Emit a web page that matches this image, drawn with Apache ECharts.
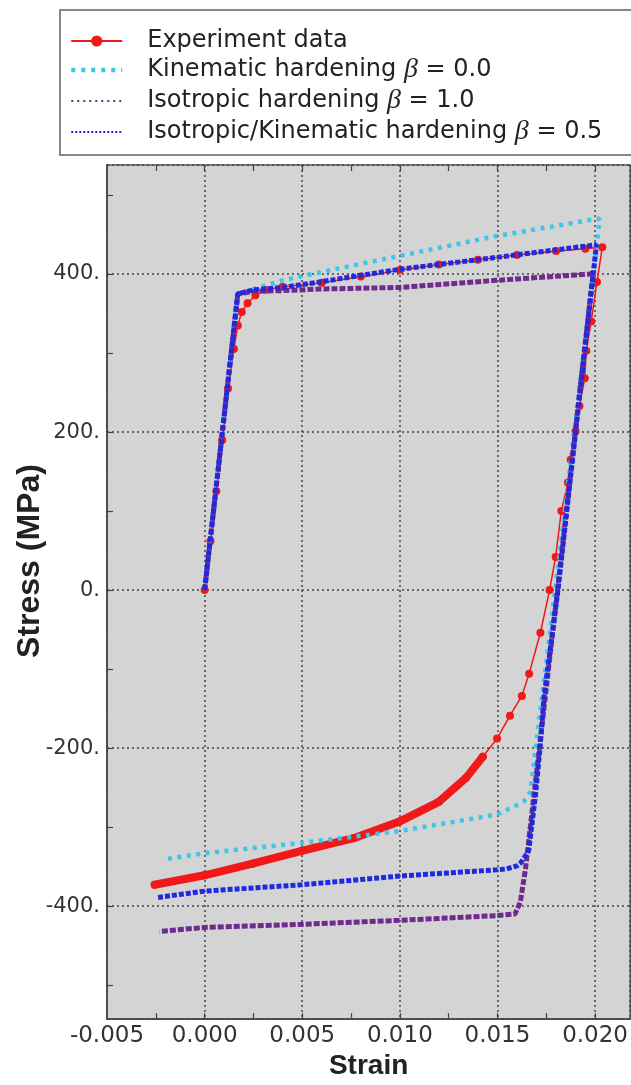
<!DOCTYPE html>
<html>
<head>
<meta charset="utf-8" />
<title>Stress-strain hysteresis</title>
<script src="https://cdn.jsdelivr.net/npm/echarts@6/dist/echarts.min.js"></script>
<style>
    * { margin:0; padding:0; }
    html, body { width:631px; height:1085px; background:#fff; }
    #main { width:631px; height:1085px; }
</style>
</head>
<body>
<div id="main"></div>
<script>
// tick positions (minor + major)
var strainTicks = [-0.0025, 0, 0.0025, 0.005, 0.0075, 0.01, 0.0125, 0.015, 0.0175, 0.02];
var stressTicks = [-500, -400, -300, -200, -100, 0, 100, 200, 300, 400, 500];

// Experiment data (red)
var expStrain = [0, 0.0003, 0.0006, 0.0009, 0.0012, 0.0015, 0.0017, 0.0019, 0.0022, 0.0026, 0.0031, 0.004, 0.006, 0.008, 0.010,
    0.012, 0.014, 0.016, 0.018, 0.0195, 0.02037, 0.0201, 0.0198, 0.01955, 0.01947, 0.0192, 0.0190, 0.01875, 0.01861, 0.01827,
    0.01798, 0.01767, 0.0172, 0.01662, 0.01625, 0.01564, 0.01498, 0.01425, 0.01338, 0.0120, 0.00998, 0.00763, 0.00498, 0.0025, 0, -0.00256];
var expStress = [0, 62, 125, 190, 255, 305, 335, 352, 363, 373, 380, 384, 389, 397, 405,
    412, 418, 424, 429, 432, 434, 390, 340, 303, 268, 233, 201, 165, 136, 100,
    42, 0, -54, -106, -134, -159, -188, -211, -238, -268, -293, -314, -330, -346, -361, -373];

// Kinematic hardening beta = 0.0 (cyan)
var kinStrain = [0, 0.0008, 0.0017, 0.0025, 0.004, 0.00589, 0.00999, 0.01494, 0.01989, 0.02024, 0.0185, 0.01669, 0.01634, 0.01498, 0.00998, 0.00498, 0, -0.00213];
var kinStress = [0, 176, 375, 381, 392, 402, 423, 448, 469, 470, 110, -255, -268, -284, -305, -320, -333, -341];

// Isotropic hardening beta = 1.0 (purple)
var isoStrain = [0, 0.0008, 0.0017, 0.0025, 0.004, 0.00589, 0.00999, 0.01494, 0.01972, 0.0199, 0.0181, 0.01643, 0.01617, 0.0159, 0.01498, 0.00998, 0.00498, 0, -0.0023];
var isoStress = [0, 176, 375, 378, 379, 381, 383, 392, 400, 401, 5, -354, -395, -410, -412, -418, -423, -427, -432];

// Isotropic/Kinematic hardening beta = 0.5 (blue)
var mixStrain = [0, 0.0008, 0.0017, 0.0025, 0.004, 0.00589, 0.00999, 0.01494, 0.02007, 0.0181, 0.01739, 0.01718, 0.01695, 0.0166, 0.0162, 0.016, 0.01547, 0.01498, 0.00998, 0.00498, 0, -0.00239];
var mixStress = [0, 176, 375, 380, 383, 390, 406, 421, 437, 0, -134, -200, -259, -330, -345, -349, -353, -354, -362, -373, -381, -389];

var names = ['Experiment data', 'Kinematic hardening β = 0.0', 'Isotropic hardening β = 1.0', 'Isotropic/Kinematic hardening β = 0.5'];

function pairs(xs, ys) {
    return xs.map(function (x, i) { return [x, ys[i]]; });
}
var expPts = pairs(expStrain, expStress);

var myChart = echarts.init(document.getElementById('main'));

var tickOnly = function (pos) {
    return {
        type: 'value', min: -0.005, max: 0.0218, position: pos,
        axisLine: { show: false, onZero: false },
        axisLabel: { show: false },
        splitLine: { show: false },
        axisTick: { show: true, inside: true, length: 6, customValues: strainTicks, lineStyle: { color: '#444', width: 1.2 } }
    };
};

var option = {
    animation: false,
    backgroundColor: '#fff',
    grid: {
        left: 107, top: 165, right: 0, bottom: 61,
        show: true, backgroundColor: '#d4d4d4', borderColor: '#555', borderWidth: 1.5
    },
    legend: {
        orient: 'vertical',
        left: 60, top: 10,
        padding: [19, 90, 9, 9],
        backgroundColor: '#fff',
        borderColor: '#888', borderWidth: 2,
        itemWidth: 51, itemHeight: 14, itemGap: 3,
        data: [
            { name: names[0] },
            { name: names[1], lineStyle: { width: 4.5, type: [4, 6] }, itemStyle: { opacity: 0 } },
            { name: names[2], lineStyle: { width: 2, type: [2, 4] }, itemStyle: { opacity: 0 } },
            { name: names[3], lineStyle: { width: 2, type: [2, 2] }, itemStyle: { opacity: 0 } }
        ],
        formatter: function (n) { return n.replace('β', '{b|β}'); },
        textStyle: {
            fontFamily: 'DejaVu Sans', fontSize: 24, color: '#222', lineHeight: 24,
            padding: [0, 0, 0, 20],
            rich: { b: { fontFamily: 'Liberation Serif', fontStyle: 'italic', fontSize: 28, color: '#222', lineHeight: 24 } }
        }
    },
    xAxis: [{
        type: 'value', min: -0.005, max: 0.0218, interval: 0.005,
        name: 'Strain', nameLocation: 'middle', nameGap: 28,
        nameTextStyle: { fontFamily: 'Liberation Sans', fontWeight: 'bold', fontSize: 28, color: '#222' },
        axisLine: { onZero: false, lineStyle: { color: '#444', width: 1.5 } },
        axisTick: { show: false },
        axisLabel: {
            showMaxLabel: false, margin: 5,
            fontFamily: 'DejaVu Sans', fontSize: 23, color: '#333',
            formatter: function (v) { return v.toFixed(3); }
        },
        splitLine: { show: true, lineStyle: { color: '#444', width: 1.5, type: [2, 3] } }
    }, tickOnly('bottom'), tickOnly('top')],
    yAxis: [{
        type: 'value', min: -543, max: 538, splitNumber: 5,
        axisLine: { onZero: false, lineStyle: { color: '#444', width: 1.5 } },
        axisTick: { show: false },
        axisLabel: {
            showMinLabel: false, showMaxLabel: false, margin: 7,
            fontFamily: 'DejaVu Sans', fontSize: 21, color: '#333',
            formatter: function (v) { return v + '.'; }
        },
        splitLine: { show: true, lineStyle: { color: '#444', width: 1.5, type: [2, 3] } }
    }, {
        type: 'value', min: -543, max: 538, position: 'left',
        axisLine: { show: false, onZero: false },
        axisLabel: { show: false },
        splitLine: { show: false },
        axisTick: { show: true, inside: true, length: 6, customValues: stressTicks, lineStyle: { color: '#444', width: 1.2 } }
    }],
    graphic: [{
        type: 'text', x: 30, y: 561, rotation: Math.PI / 2,
        style: {
            text: 'Stress (MPa)', fill: '#222',
            font: 'bold 32px "Liberation Sans"',
            align: 'center', verticalAlign: 'middle'
        }
    }],
    series: [{
        name: names[0], type: 'line', data: expPts,
        symbol: 'circle', symbolSize: 8, showAllSymbol: true,
        itemStyle: { color: '#f01818' },
        lineStyle: { color: '#f01818', width: 1.5 },
        z: 2
    }, {
        name: names[0], type: 'line', data: expPts.slice(37),
        symbol: 'none',
        itemStyle: { color: '#f01818' },
        lineStyle: { color: '#f01818', width: 8, cap: 'round', join: 'round' },
        z: 2
    }, {
        name: names[1], type: 'line', data: pairs(kinStrain, kinStress),
        symbol: 'none',
        itemStyle: { color: '#3cc6e8' },
        lineStyle: { color: '#3cc6e8', width: 4.5, type: [4, 5.5] },
        z: 3
    }, {
        name: names[2], type: 'line', data: pairs(isoStrain, isoStress),
        symbol: 'none',
        itemStyle: { color: '#6e2a8c' },
        lineStyle: { color: '#6e2a8c', width: 5, type: [6, 2] },
        z: 4
    }, {
        name: names[3], type: 'line', data: pairs(mixStrain, mixStress),
        symbol: 'none',
        itemStyle: { color: '#1f2ae0' },
        lineStyle: { color: '#1f2ae0', width: 5, type: [5, 2] },
        z: 5
    }]
};

myChart.setOption(option);
</script>
</body>
</html>
